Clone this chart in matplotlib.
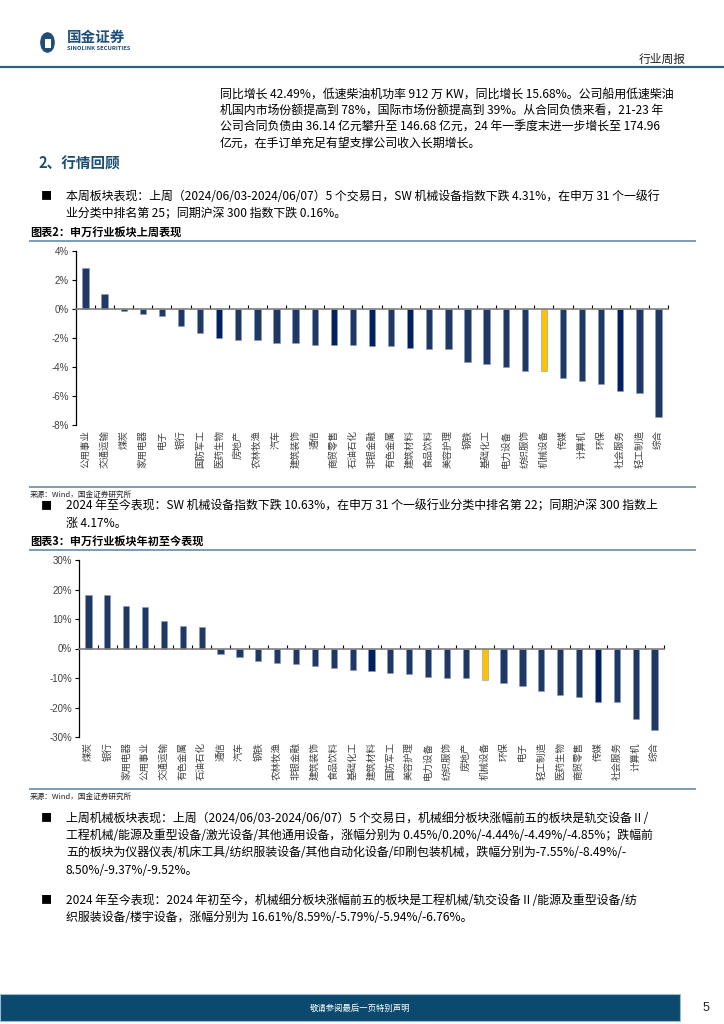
import matplotlib
matplotlib.use('Agg')
import matplotlib.pyplot as plt
import matplotlib.patches as patches
from matplotlib.ticker import FixedLocator, FuncFormatter
import numpy as np

plt.rcParams['font.family'] = ['Noto Sans CJK SC', 'DejaVu Sans']

# 申万行业板块上周表现 (%)
week_names = ['公用事业', '交通运输', '煤炭', '家用电器', '电子', '银行', '国防军工', '医药生物',
              '房地产', '农林牧渔', '汽车', '建筑装饰', '通信', '商贸零售', '石油石化', '非银金融',
              '有色金属', '建筑材料', '食品饮料', '美容护理', '钢铁', '基础化工', '电力设备',
              '纺织服饰', '机械设备', '传媒', '计算机', '环保', '社会服务', '轻工制造', '综合']
week_values = [2.81, 1.05, -0.16, -0.34, -0.48, -1.19, -1.67, -1.99,
               -2.17, -2.17, -2.35, -2.35, -2.47, -2.47, -2.47, -2.54,
               -2.58, -2.67, -2.74, -2.74, -3.66, -3.79, -3.98,
               -4.25, -4.31, -4.73, -4.94, -5.17, -5.67, -5.78, -7.43]

# 申万行业板块年初至今表现 (%)
ytd_names = ['煤炭', '银行', '家用电器', '公用事业', '交通运输', '有色金属', '石油石化', '通信',
             '汽车', '钢铁', '农林牧渔', '非银金融', '建筑装饰', '食品饮料', '基础化工', '建筑材料',
             '国防军工', '美容护理', '电力设备', '纺织服饰', '房地产', '机械设备', '环保', '电子',
             '轻工制造', '医药生物', '商贸零售', '传媒', '社会服务', '计算机', '综合']
ytd_values = [18.3, 18.1, 14.4, 14.0, 9.2, 7.7, 7.2, -2.0,
              -2.9, -4.4, -4.9, -5.1, -5.8, -6.5, -7.4, -7.6,
              -8.3, -8.6, -9.6, -10.1, -10.1, -10.63, -11.8, -12.6,
              -14.5, -15.6, -16.3, -18.1, -18.1, -23.8, -27.7]

week_ticks = [4, 2, 0, -2, -4, -6, -8]
ytd_ticks = [30, 20, 10, 0, -10, -20, -30]

para_lines = ['同比增长 42.49%，低速柴油机功率 912 万 KW，同比增长 15.68%。公司船用低速柴油',
              '机国内市场份额提高到 78%，国际市场份额提高到 39%。从合同负债来看，21-23 年',
              '公司合同负债由 36.14 亿元攀升至 146.68 亿元，24 年一季度末进一步增长至 174.96',
              '亿元，在手订单充足有望支撑公司收入长期增长。']
bullet1 = ['本周板块表现：上周（2024/06/03-2024/06/07）5 个交易日，SW 机械设备指数下跌 4.31%，在申万 31 个一级行',
           '业分类中排名第 25；同期沪深 300 指数下跌 0.16%。']
bullet2 = ['2024 年至今表现：SW 机械设备指数下跌 10.63%，在申万 31 个一级行业分类中排名第 22；同期沪深 300 指数上',
           '涨 4.17%。']
bullet3 = ['上周机械板块表现：上周（2024/06/03-2024/06/07）5 个交易日，机械细分板块涨幅前五的板块是轨交设备Ⅱ/',
           '工程机械/能源及重型设备/激光设备/其他通用设备，涨幅分别为 0.45%/0.20%/-4.44%/-4.49%/-4.85%；跌幅前',
           '五的板块为仪器仪表/机床工具/纺织服装设备/其他自动化设备/印刷包装机械，跌幅分别为-7.55%/-8.49%/-',
           '8.50%/-9.37%/-9.52%。']
bullet4 = ['2024 年至今表现：2024 年初至今，机械细分板块涨幅前五的板块是工程机械/轨交设备Ⅱ/能源及重型设备/纺',
           '织服装设备/楼宇设备，涨幅分别为 16.61%/8.59%/-5.79%/-5.94%/-6.76%。']

W, H = 724, 1024
BLUE = '#1f4e79'
BAR = '#1f3864'
BAR_DARK = '#002060'
HIGHLIGHT = '#ffc000'
dark_week = {'医药生物', '商贸零售', '非银金融', '建筑材料', '社会服务'}
dark_ytd = {'建筑材料', '传媒'}

fig = plt.figure(figsize=(W / 100, H / 100), dpi=100)


def fx(x):
    return x / W


def fy(y):
    return 1 - y / H


def txt(x, y, s, size=9, **kw):
    fig.text(fx(x), fy(y), s, fontsize=size, va='center', ha=kw.pop('ha', 'left'), **kw)


def hline(x0, x1, y, color, lw):
    fig.add_artist(plt.Line2D([fx(x0), fx(x1)], [fy(y), fy(y)], color=color, lw=lw))


# header
logo = patches.FancyBboxPatch((fx(40), fy(53)), fx(15), 21 / H, boxstyle='round,pad=0,rounding_size=0.012',
                              transform=fig.transFigure, fc=BLUE, ec='none')
fig.add_artist(logo)
fig.add_artist(patches.Rectangle((fx(44.5), fy(48)), fx(6), 9 / H, transform=fig.transFigure, fc='white', ec='none'))
txt(67, 37, '国金证券', size=10.5, color=BLUE, weight='bold')
txt(67, 48, 'SINOLINK SECURITIES', size=4.2, color=BLUE, weight='bold')
txt(686, 59, '行业周报', size=8.5, color='#222222', ha='right')
hline(0, W, 67, '#2e5f85', 1.6)

for i, s in enumerate(para_lines):
    txt(220, 95 + 16 * i, s, size=8.6, color='black')

txt(38, 164, '2、行情回顾', size=10.5, color='#1b4f72', weight='bold')


def bullet(y, lines):
    txt(41, y, '■', size=8, color='black')
    for i, s in enumerate(lines):
        txt(66, y + 17.5 * i, s, size=8.6, color='black')


bullet(196, bullet1)
bullet(506, bullet2)
bullet(818, bullet3)
bullet(900, bullet4)


def chart(names, values, ticks, dark, rect, title, title_y, src_y):
    txt(30, title_y, title, size=8, color='black', weight='bold', style='italic')
    hline(30, 695, title_y + 9, '#7a9cb8', 1.4)
    hline(30, 695, src_y - 8, '#7a9cb8', 1.4)
    txt(30, src_y, '来源：Wind，国金证券研究所', size=5.5, color='#222222')

    x0, y0, x1, y1 = rect
    ax = fig.add_axes([fx(x0), fy(y1), fx(x1 - x0), (y1 - y0) / H])
    x = np.arange(len(names))
    colors = []
    for n in names:
        if n == '机械设备':
            colors.append(HIGHLIGHT)
        elif n in dark:
            colors.append(BAR_DARK)
        else:
            colors.append(BAR)
    ax.bar(x, values, width=0.33, color=colors, edgecolor='#8a9bbd', linewidth=0.4, zorder=2)
    ax.set_xlim(-0.5, len(names) - 0.5)
    ax.set_ylim(ticks[-1], ticks[0])
    ax.set_yticks(ticks)
    ax.yaxis.set_major_formatter(FuncFormatter(lambda v, p: '%d%%' % v))
    ax.tick_params(axis='y', direction='out', length=3, width=0.8, labelsize=7, colors='black',
                   labelcolor='#404040', pad=2)
    for lab in ax.get_yticklabels():
        lab.set_family('Liberation Sans')
    for s in ['top', 'right']:
        ax.spines[s].set_visible(False)
    ax.spines['left'].set_linewidth(0.9)
    ax.spines['bottom'].set_position(('data', 0))
    ax.spines['bottom'].set_color('#808080')
    ax.spines['bottom'].set_linewidth(1.2)
    ax.spines['bottom'].set_zorder(3)
    ax.xaxis.set_major_locator(FixedLocator(list(np.arange(len(names) + 1) - 0.5)))
    ax.tick_params(axis='x', direction='in', length=3, width=0.8, color='black', labelbottom=False)
    for i, n in enumerate(names):
        ax.text(i, -0.03, n, transform=ax.get_xaxis_transform(), rotation=90, ha='center', va='top',
                fontsize=6.8, color='#404040')
    ax.patch.set_alpha(0)


chart(week_names, week_values, week_ticks, dark_week, (76, 251, 668, 425),
      '图表2：申万行业板块上周表现', 232, 495)
chart(ytd_names, ytd_values, ytd_ticks, dark_ytd, (79, 560, 664, 737),
      '图表3：申万行业板块年初至今表现', 541, 797)

# footer
fig.add_artist(patches.Rectangle((0, fy(1021)), fx(680), 27 / H, transform=fig.transFigure,
                                 fc='#0b4a6e', ec='#9fb8cc', lw=0.8))
txt(360, 1008, '敬请参阅最后一页特别声明', size=6, color='white', ha='center')
txt(706, 1008, '5', size=9, color='#222222', ha='center', family='Liberation Sans')

fig.savefig('out.png', dpi=100)
